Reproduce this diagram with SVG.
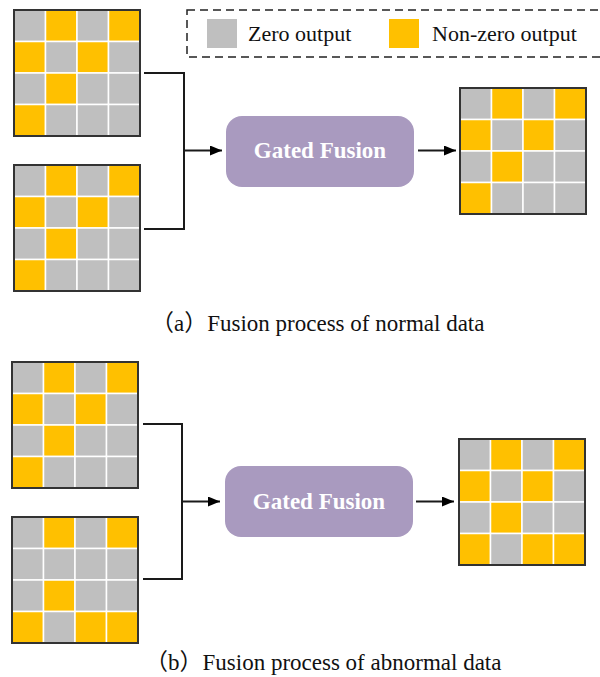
<svg xmlns="http://www.w3.org/2000/svg" width="600" height="677" viewBox="0 0 600 677">
<style>
.g{fill:#BFBFBF;stroke:#FFFFFF;stroke-width:1.5}
.o{fill:#FFC000;stroke:#FFFFFF;stroke-width:1.5}
.frame{fill:none;stroke:#333333;stroke-width:2}
.conn{fill:none;stroke:#1a1a1a;stroke-width:2}
.box{fill:#A99ABF}
.boxt{font-weight:bold;font-size:23px;fill:#FFFFFF;text-anchor:middle}
.lt{font-size:22px;fill:#111111}
.cap{font-size:23px;fill:#111111}
</style>
<defs>
<marker id="arr" markerWidth="12" markerHeight="10" refX="12" refY="5" orient="auto" markerUnits="userSpaceOnUse">
<path d="M0,0 L12,5 L0,10 Z" fill="#000000"/>
</marker>
</defs>

<g id="legend" font-family="'Liberation Serif', 'Times New Roman', serif">
<rect x="187" y="10" width="430" height="47" fill="none" stroke="#222222" stroke-width="1.5" stroke-dasharray="8,5"/>
<rect x="207" y="19" width="30" height="29" fill="#BFBFBF"/>
<text class="lt" x="248" y="41">Zero output</text>
<rect x="389" y="19" width="30" height="29" fill="#FFC000"/>
<text class="lt" x="432" y="41">Non-zero output</text>
</g>

<g id="gridA1" transform="translate(14,10)">
<rect class="g" x="0" y="0" width="31.5" height="31.5"/><rect class="o" x="31.5" y="0" width="31.5" height="31.5"/><rect class="g" x="63" y="0" width="31.5" height="31.5"/><rect class="o" x="94.5" y="0" width="31.5" height="31.5"/>
<rect class="o" x="0" y="31.5" width="31.5" height="31.5"/><rect class="g" x="31.5" y="31.5" width="31.5" height="31.5"/><rect class="o" x="63" y="31.5" width="31.5" height="31.5"/><rect class="g" x="94.5" y="31.5" width="31.5" height="31.5"/>
<rect class="g" x="0" y="63" width="31.5" height="31.5"/><rect class="o" x="31.5" y="63" width="31.5" height="31.5"/><rect class="g" x="63" y="63" width="31.5" height="31.5"/><rect class="g" x="94.5" y="63" width="31.5" height="31.5"/>
<rect class="o" x="0" y="94.5" width="31.5" height="31.5"/><rect class="g" x="31.5" y="94.5" width="31.5" height="31.5"/><rect class="g" x="63" y="94.5" width="31.5" height="31.5"/><rect class="g" x="94.5" y="94.5" width="31.5" height="31.5"/>
<rect class="frame" x="0" y="0" width="126" height="126"/>
</g>

<g id="gridA2" transform="translate(14,165)">
<rect class="g" x="0" y="0" width="31.5" height="31.5"/><rect class="o" x="31.5" y="0" width="31.5" height="31.5"/><rect class="g" x="63" y="0" width="31.5" height="31.5"/><rect class="o" x="94.5" y="0" width="31.5" height="31.5"/>
<rect class="o" x="0" y="31.5" width="31.5" height="31.5"/><rect class="g" x="31.5" y="31.5" width="31.5" height="31.5"/><rect class="o" x="63" y="31.5" width="31.5" height="31.5"/><rect class="g" x="94.5" y="31.5" width="31.5" height="31.5"/>
<rect class="g" x="0" y="63" width="31.5" height="31.5"/><rect class="o" x="31.5" y="63" width="31.5" height="31.5"/><rect class="g" x="63" y="63" width="31.5" height="31.5"/><rect class="g" x="94.5" y="63" width="31.5" height="31.5"/>
<rect class="o" x="0" y="94.5" width="31.5" height="31.5"/><rect class="g" x="31.5" y="94.5" width="31.5" height="31.5"/><rect class="g" x="63" y="94.5" width="31.5" height="31.5"/><rect class="g" x="94.5" y="94.5" width="31.5" height="31.5"/>
<rect class="frame" x="0" y="0" width="126" height="126"/>
</g>

<g id="fusionA" font-family="'Liberation Serif', 'Times New Roman', serif">
<rect class="box" x="226" y="116" width="188" height="71" rx="16"/>
<text class="boxt" x="320" y="158">Gated Fusion</text>
</g>

<g id="gridAout" transform="translate(460,88)">
<rect class="g" x="0" y="0" width="31.5" height="31.5"/><rect class="o" x="31.5" y="0" width="31.5" height="31.5"/><rect class="g" x="63" y="0" width="31.5" height="31.5"/><rect class="o" x="94.5" y="0" width="31.5" height="31.5"/>
<rect class="o" x="0" y="31.5" width="31.5" height="31.5"/><rect class="g" x="31.5" y="31.5" width="31.5" height="31.5"/><rect class="o" x="63" y="31.5" width="31.5" height="31.5"/><rect class="g" x="94.5" y="31.5" width="31.5" height="31.5"/>
<rect class="g" x="0" y="63" width="31.5" height="31.5"/><rect class="o" x="31.5" y="63" width="31.5" height="31.5"/><rect class="g" x="63" y="63" width="31.5" height="31.5"/><rect class="g" x="94.5" y="63" width="31.5" height="31.5"/>
<rect class="o" x="0" y="94.5" width="31.5" height="31.5"/><rect class="g" x="31.5" y="94.5" width="31.5" height="31.5"/><rect class="g" x="63" y="94.5" width="31.5" height="31.5"/><rect class="g" x="94.5" y="94.5" width="31.5" height="31.5"/>
<rect class="frame" x="0" y="0" width="126" height="126"/>
</g>

<g id="gridB1" transform="translate(12,362)">
<rect class="g" x="0" y="0" width="31.5" height="31.5"/><rect class="o" x="31.5" y="0" width="31.5" height="31.5"/><rect class="g" x="63" y="0" width="31.5" height="31.5"/><rect class="o" x="94.5" y="0" width="31.5" height="31.5"/>
<rect class="o" x="0" y="31.5" width="31.5" height="31.5"/><rect class="g" x="31.5" y="31.5" width="31.5" height="31.5"/><rect class="o" x="63" y="31.5" width="31.5" height="31.5"/><rect class="g" x="94.5" y="31.5" width="31.5" height="31.5"/>
<rect class="g" x="0" y="63" width="31.5" height="31.5"/><rect class="o" x="31.5" y="63" width="31.5" height="31.5"/><rect class="g" x="63" y="63" width="31.5" height="31.5"/><rect class="g" x="94.5" y="63" width="31.5" height="31.5"/>
<rect class="o" x="0" y="94.5" width="31.5" height="31.5"/><rect class="g" x="31.5" y="94.5" width="31.5" height="31.5"/><rect class="g" x="63" y="94.5" width="31.5" height="31.5"/><rect class="g" x="94.5" y="94.5" width="31.5" height="31.5"/>
<rect class="frame" x="0" y="0" width="126" height="126"/>
</g>

<g id="gridB2" transform="translate(12,517)">
<rect class="g" x="0" y="0" width="31.5" height="31.5"/><rect class="o" x="31.5" y="0" width="31.5" height="31.5"/><rect class="g" x="63" y="0" width="31.5" height="31.5"/><rect class="o" x="94.5" y="0" width="31.5" height="31.5"/>
<rect class="g" x="0" y="31.5" width="31.5" height="31.5"/><rect class="g" x="31.5" y="31.5" width="31.5" height="31.5"/><rect class="g" x="63" y="31.5" width="31.5" height="31.5"/><rect class="g" x="94.5" y="31.5" width="31.5" height="31.5"/>
<rect class="g" x="0" y="63" width="31.5" height="31.5"/><rect class="o" x="31.5" y="63" width="31.5" height="31.5"/><rect class="g" x="63" y="63" width="31.5" height="31.5"/><rect class="g" x="94.5" y="63" width="31.5" height="31.5"/>
<rect class="o" x="0" y="94.5" width="31.5" height="31.5"/><rect class="g" x="31.5" y="94.5" width="31.5" height="31.5"/><rect class="o" x="63" y="94.5" width="31.5" height="31.5"/><rect class="o" x="94.5" y="94.5" width="31.5" height="31.5"/>
<rect class="frame" x="0" y="0" width="126" height="126"/>
</g>

<g id="fusionB" font-family="'Liberation Serif', 'Times New Roman', serif">
<rect class="box" x="225" y="466" width="188" height="71" rx="16"/>
<text class="boxt" x="319" y="509">Gated Fusion</text>
</g>

<g id="gridBout" transform="translate(459,439)">
<rect class="g" x="0" y="0" width="31.5" height="31.5"/><rect class="o" x="31.5" y="0" width="31.5" height="31.5"/><rect class="g" x="63" y="0" width="31.5" height="31.5"/><rect class="o" x="94.5" y="0" width="31.5" height="31.5"/>
<rect class="o" x="0" y="31.5" width="31.5" height="31.5"/><rect class="g" x="31.5" y="31.5" width="31.5" height="31.5"/><rect class="o" x="63" y="31.5" width="31.5" height="31.5"/><rect class="g" x="94.5" y="31.5" width="31.5" height="31.5"/>
<rect class="g" x="0" y="63" width="31.5" height="31.5"/><rect class="o" x="31.5" y="63" width="31.5" height="31.5"/><rect class="g" x="63" y="63" width="31.5" height="31.5"/><rect class="g" x="94.5" y="63" width="31.5" height="31.5"/>
<rect class="o" x="0" y="94.5" width="31.5" height="31.5"/><rect class="g" x="31.5" y="94.5" width="31.5" height="31.5"/><rect class="o" x="63" y="94.5" width="31.5" height="31.5"/><rect class="o" x="94.5" y="94.5" width="31.5" height="31.5"/>
<rect class="frame" x="0" y="0" width="126" height="126"/>
</g>

<g id="connectors">
<path class="conn" d="M144,73 H184 V229 H144"/>
<path class="conn" d="M184,150.5 H222" marker-end="url(#arr)"/>
<path class="conn" d="M418,150.5 H456" marker-end="url(#arr)"/>
<path class="conn" d="M143,424 H182 V579 H143"/>
<path class="conn" d="M182,501.5 H220" marker-end="url(#arr)"/>
<path class="conn" d="M416,501.5 H454" marker-end="url(#arr)"/>
</g>

<g id="captions" font-family="'Liberation Serif', 'Times New Roman', 'Noto Sans CJK SC', serif">
<text class="cap" x="151" y="331">（a）Fusion process of normal data</text>
<text class="cap" x="145" y="670">（b）Fusion process of abnormal data</text>
</g>
</svg>
